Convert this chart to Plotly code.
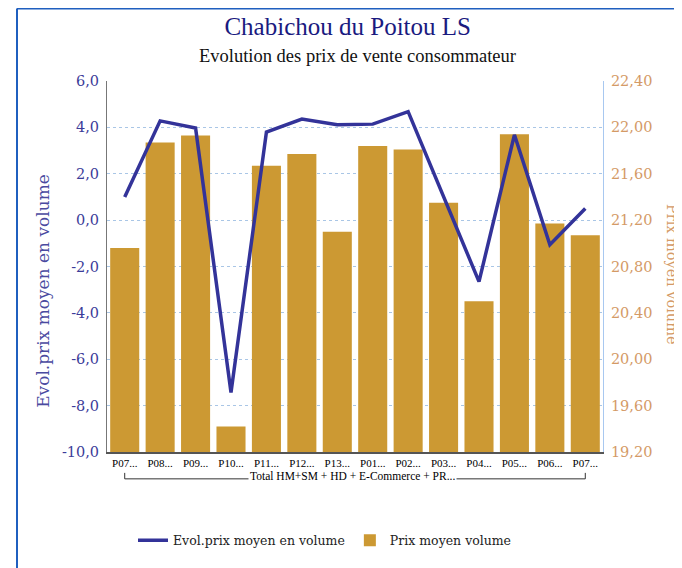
import plotly.graph_objects as go

categories = ["P07...", "P08...", "P09...", "P10...", "P11...", "P12...", "P13...",
              "P01...", "P02...", "P03...", "P04...", "P05...", "P06...", "P07..."]
group_label = "Total HM+SM + HD + E-Commerce + PR..."
evol_prix = [1.0, 4.28, 3.97, -7.43, 3.8, 4.36, 4.11, 4.14, 4.68, 1.02, -2.65, 3.68, -1.06, 0.5]
prix_moyen = [20.96, 21.87, 21.93, 19.42, 21.67, 21.77, 21.10, 21.84, 21.81, 21.35, 20.50, 21.94, 21.17, 21.07]
left_ticks = [-10, -8, -6, -4, -2, 0, 2, 4, 6]
right_ticks = [19.2, 19.6, 20.0, 20.4, 20.8, 21.2, 21.6, 22.0, 22.4]

OFF = 8  # page body margin
W, H = 682 - OFF, 568 - OFF
L, R, T, B = 107 - OFF, 79, 81 - OFF, 114
PW, PH = W - L - R, H - T - B

def px(x):
    # x in window pixels
    return (x - OFF - L) / PW

def py(y):
    return (H - B - (y - OFF)) / PH

SERIF = "Liberation Serif"
SERIF2 = "DejaVu Serif"
idx = list(range(len(categories)))

fig = go.Figure()
fig.add_trace(go.Scatter(
    x=idx, y=evol_prix, mode="lines", name="Evol.prix moyen en volume",
    line=dict(color="#333399", width=3.5), yaxis="y2"))
fig.add_trace(go.Bar(
    x=idx, y=prix_moyen, name="Prix moyen volume",
    marker=dict(color="#CC9933", line=dict(width=0)), yaxis="y"))

fig.update_layout(
    width=W, height=H,
    margin=dict(l=L, r=R, t=T, b=B),
    paper_bgcolor="white", plot_bgcolor="white",
    bargap=0.18,
    showlegend=True,
    legend=dict(orientation="h", x=px(325), xanchor="center", y=py(543), yanchor="middle",
                font=dict(family=SERIF2, size=12.5, color="#222222"),
                itemwidth=30, traceorder="normal"),
    title=dict(text="Chabichou du Poitou LS", x=px(357), xanchor="center",
               y=1 - (26 - OFF) / H, yanchor="middle",
               font=dict(family=SERIF, size=25, color="#1a1a80")),
    xaxis=dict(range=[-0.5, len(categories) - 0.5], tickvals=idx, ticktext=categories,
               tickangle=0, showgrid=False, zeroline=False,
               showline=True, linecolor="#555555", linewidth=1.5,
               ticks="", tickfont=dict(family=SERIF, size=11, color="#000000")),
    yaxis=dict(side="right", range=[19.2, 22.4], tickvals=right_ticks,
               ticktext=[f"{v:.2f}".replace(".", ",") for v in right_ticks],
               showgrid=True, gridcolor="#a9c6e6", griddash="dot", gridwidth=1,
               zeroline=False, showline=True, linecolor="#a8c8f0", linewidth=1,
               ticks="outside", ticklen=4, tickcolor="rgba(0,0,0,0)",
               tickfont=dict(family=SERIF2, size=14.5, color="#d49a66")),
    yaxis2=dict(side="left", overlaying="y", range=[-10, 6], tickvals=left_ticks,
                ticktext=[f"{v:.1f}".replace(".", ",") for v in left_ticks],
                showgrid=False, zeroline=False, showline=True,
                linecolor="#777777", linewidth=1,
                ticks="outside", ticklen=4, tickcolor="rgba(0,0,0,0)",
                tickfont=dict(family=SERIF2, size=14.5, color="#3c3c99")),
)

annotations = [
    dict(text="Evolution des prix de vente consommateur", x=px(357), y=py(56),
         xref="paper", yref="paper", showarrow=False, xanchor="center", yanchor="middle",
         font=dict(family=SERIF, size=18.5, color="#111111")),
    dict(text="Evol.prix moyen en volume", x=px(43), y=py(292), xref="paper", yref="paper",
         showarrow=False, textangle=-90, xanchor="center", yanchor="middle",
         font=dict(family=SERIF2, size=17, color="#4a4aa0")),
    dict(text="Prix moyen volume", x=px(672), y=py(275), xref="paper", yref="paper",
         showarrow=False, textangle=90, xanchor="center", yanchor="middle",
         font=dict(family=SERIF2, size=14.5, color="#d49a66")),
    dict(text=group_label, x=px(352), y=py(478), xref="paper", yref="paper",
         showarrow=False, xanchor="center", yanchor="middle", bgcolor="white",
         font=dict(family=SERIF, size=11.5, color="#000000")),
]
fig.update_layout(annotations=annotations)

x_first = 0
x_last = len(categories) - 1
shapes = [
    # group bracket
    dict(type="line", xref="x", yref="paper", x0=x_first, x1=x_last, y0=py(481), y1=py(481),
         line=dict(color="#333333", width=1), layer="below"),
    dict(type="line", xref="x", yref="paper", x0=x_first, x1=x_first, y0=py(475), y1=py(481),
         line=dict(color="#333333", width=1)),
    dict(type="line", xref="x", yref="paper", x0=x_last, x1=x_last, y0=py(475), y1=py(481),
         line=dict(color="#333333", width=1)),
    # frame
    dict(type="line", xref="paper", yref="paper", x0=px(17), x1=px(17), y0=py(8), y1=py(575),
         line=dict(color="#1f5fbf", width=2)),
    dict(type="line", xref="paper", yref="paper", x0=px(17), x1=px(690), y0=py(8), y1=py(8),
         line=dict(color="#1f5fbf", width=2)),
]
fig.update_layout(shapes=shapes)

fig.write_html("out.html")
